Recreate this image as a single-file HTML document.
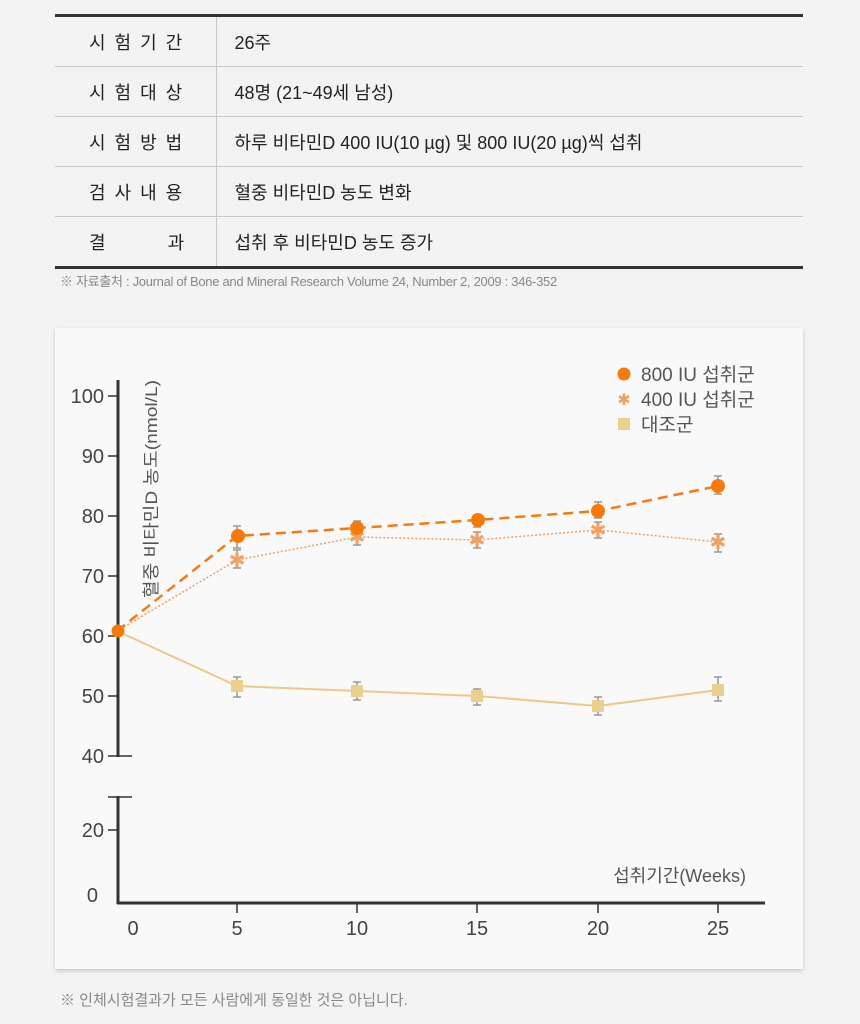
<!DOCTYPE html>
<html><head><meta charset="utf-8"><style>
body{margin:0;width:860px;height:1024px;background:#f3f3f3;font-family:"Liberation Sans","Noto Sans CJK KR",sans-serif;position:relative;overflow:hidden}
table{position:absolute;left:55px;top:14px;width:748px;border-collapse:collapse;border-top:3px solid #333;border-bottom:3px solid #333}
td{height:49px;border-bottom:1px solid #c8c8c8;font-size:18px;color:#222;padding:0}
tr:last-child td{border-bottom:none}
td.l{width:161px;border-right:1px solid #c8c8c8;text-align:left;padding-left:34px;letter-spacing:9px;box-sizing:border-box}
td.r{padding-left:18px}
.src{position:absolute;left:60px;top:271px;font-size:13px;color:#888;letter-spacing:-0.3px}
.card{position:absolute;left:55px;top:328px;width:748px;height:641px;background:#f9f9f9;box-shadow:0 2px 4px rgba(0,0,0,0.18)}
.note{position:absolute;left:60px;top:989px;font-size:15px;color:#888}
svg{position:absolute;left:0;top:0}
</style></head><body>
<table>
<tr><td class="l">시험기간</td><td class="r">26주</td></tr>
<tr><td class="l">시험대상</td><td class="r">48명 (21~49세 남성)</td></tr>
<tr><td class="l">시험방법</td><td class="r">하루 비타민D 400 IU(10 µg) 및 800 IU(20 µg)씩 섭취</td></tr>
<tr><td class="l">검사내용</td><td class="r">혈중 비타민D 농도 변화</td></tr>
<tr><td class="l"><span style="letter-spacing:0">결</span><span style="margin-left:62px;letter-spacing:0">과</span></td><td class="r">섭취 후 비타민D 농도 증가</td></tr>
</table>
<div class="src">※ 자료출처 : Journal of Bone and Mineral Research Volume 24, Number 2, 2009 : 346-352</div>
<div class="card"></div>
<div class="note">※ 인체시험결과가 모든 사람에게 동일한 것은 아닙니다.</div>
<svg width="860" height="1024" font-family="Liberation Sans, Noto Sans CJK KR, sans-serif">
<g stroke="#333" stroke-width="3" fill="none">
<path d="M118 380V757M118 796V904M117 903H765"/>
</g>
<g stroke="#333" stroke-width="1.5">
<path d="M108 396H118M108 456H118M108 516H118M108 576H118M108 636H118M108 696H118M108 756H132M108 830H118M108 797H132"/>
<path d="M237 903V913M357 903V913M477 903V913M598 903V913M718 903V913"/>
</g>
<g font-size="20" fill="#444" text-anchor="end">
<text x="104" y="403">100</text><text x="104" y="463">90</text><text x="104" y="523">80</text><text x="104" y="583">70</text><text x="104" y="643">60</text><text x="104" y="703">50</text><text x="104" y="763">40</text><text x="104" y="837">20</text><text x="98" y="902">0</text>
</g>
<g font-size="20" fill="#444" text-anchor="middle">
<text x="133" y="935">0</text><text x="237" y="935">5</text><text x="357" y="935">10</text><text x="477" y="935">15</text><text x="598" y="935">20</text><text x="718" y="935">25</text>
</g>
<text x="746" y="882" font-size="18" fill="#555" text-anchor="end">섭취기간(Weeks)</text>
<text transform="translate(157,598) rotate(-90)" font-size="17" fill="#555" textLength="218" lengthAdjust="spacingAndGlyphs">혈중 비타민D 농도(nmol/L)</text>
<g stroke="#999" stroke-width="1.5">
<path d="M237 526V548M233 526H241M233 548H241M357 521V535M353 521H361M353 535H361M477 515V527M473 515H481M473 527H481M598 502V518M594 502H602M594 518H602M718 476V494M714 476H722M714 494H722"/>
<path d="M237 550V568M233 550H241M233 568H241M357 529V545M353 529H361M353 545H361M477 532V548M473 532H481M473 548H481M598 522V538M594 522H602M594 538H602M718 534V552M714 534H722M714 552H722"/>
<path d="M237 677V697M233 677H241M233 697H241M357 682V700M353 682H361M353 700H361M477 689V705M473 689H481M473 705H481M598 697V715M594 697H602M594 715H602M718 677V701M714 677H722M714 701H722"/>
</g>
<polyline points="117,631 237,686 357,691 477,696 598,706 718,690" fill="none" stroke="#ebc98a" stroke-width="2"/>
<polyline points="117,631 237,560 357,537 477,540 598,530 718,542" fill="none" stroke="#f0a060" stroke-width="1.5" stroke-dasharray="2 2"/>
<polyline points="117,631 237,536 357,528 477,520 598,511 718,486" fill="none" stroke="#f57a10" stroke-width="2.5" stroke-dasharray="10 6"/>
<g fill="#ebcf8e"><rect x="231" y="680" width="12" height="12"/><rect x="351" y="685" width="12" height="12"/><rect x="471" y="690" width="12" height="12"/><rect x="592" y="700" width="12" height="12"/><rect x="712" y="684" width="12" height="12"/></g>
<g fill="#f0a060" font-size="20" text-anchor="middle"><text x="237" y="567">✱</text><text x="357" y="544">✱</text><text x="477" y="547">✱</text><text x="598" y="537">✱</text><text x="718" y="549">✱</text></g>
<g fill="#f57a0a"><circle cx="118" cy="631" r="6.5"/><circle cx="238" cy="536" r="7"/><circle cx="357" cy="528" r="7"/><circle cx="478" cy="520" r="7"/><circle cx="598" cy="511" r="7"/><circle cx="718" cy="486" r="7"/></g>
<circle cx="624" cy="374" r="6.5" fill="#f57a0a"/>
<text x="624" y="405" fill="#f0a060" font-size="16" text-anchor="middle">✱</text>
<rect x="618" y="418" width="12" height="12" fill="#ebcf8e"/>
<g font-size="19" fill="#555"><text x="641" y="381">800 IU 섭취군</text><text x="641" y="406">400 IU 섭취군</text><text x="641" y="431">대조군</text></g>
</svg>
</body></html>
